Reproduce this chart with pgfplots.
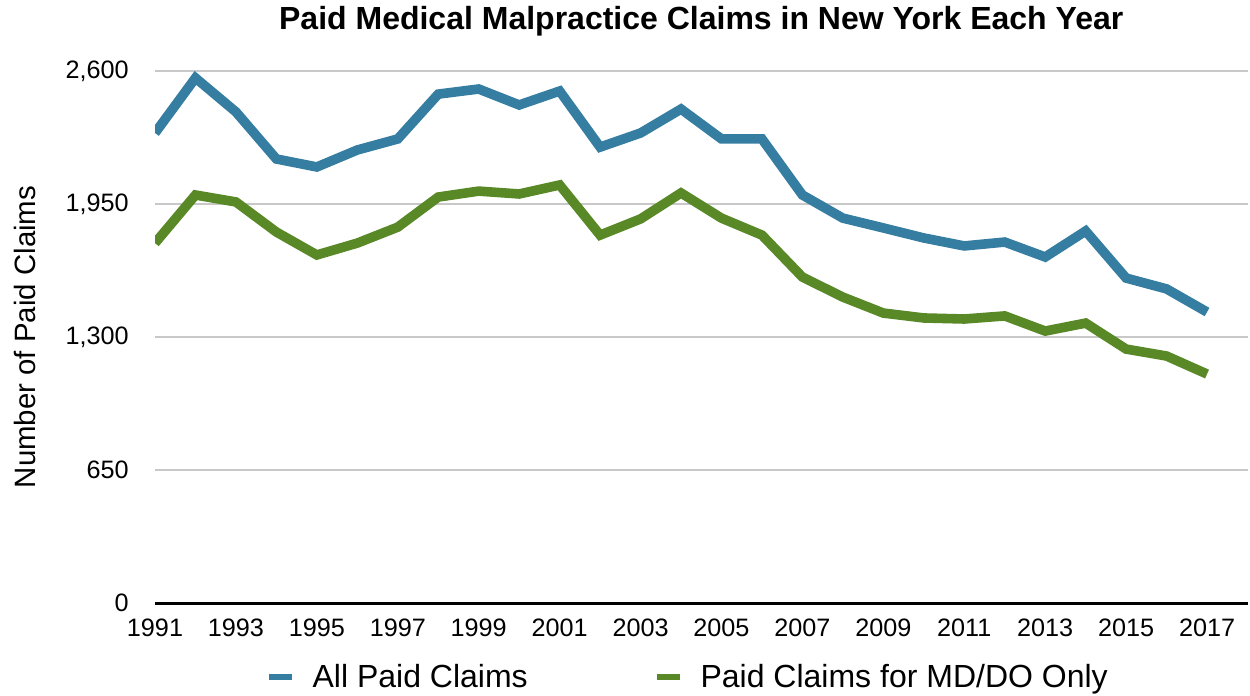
\documentclass[border=0pt]{standalone}
\usepackage{pgfplots}
\pgfplotsset{compat=1.18}
\usepackage{fontspec}
\setmainfont{Liberation Sans}
\definecolor{cblue}{RGB}{53,125,161}
\definecolor{cgreen}{RGB}{89,137,39}
\definecolor{cgrid}{RGB}{200,200,200}
\begin{document}
\begin{tikzpicture}
\useasboundingbox (-77.5bp,-46.5bp) rectangle (547.5bp,301.5bp);
\begin{axis}[
  at={(0,0)}, anchor=south west, scale only axis,
  width=546.25bp, height=266bp,
  xmin=1991, xmax=2018, ymin=0, ymax=2600,
  xtick={1991,1993,...,2017}, ytick={0,650,1300,1950,2600},
  /pgf/number format/assume math mode=true,
  x tick label style={/pgf/number format/1000 sep={}, font=\fontsize{12.6bp}{15bp}\selectfont, inner sep=0pt, anchor=north, yshift=-8bp},
  y tick label style={/pgf/number format/1000 sep={,}, font=\fontsize{12.6bp}{15bp}\selectfont, inner sep=0pt, anchor=east, xshift=-13bp},
  major tick length=0pt,
  separate axis lines,
  axis x line*=bottom, axis y line*=left,
  y axis line style={draw=none},
  x axis line style={line width=1.5bp, black, -},
  ymajorgrids, major grid style={draw=cgrid, line width=0.6bp},
  title={Paid Medical Malpractice Claims in New York Each Year},
  title style={at={(axis description cs:0.5,1)}, anchor=center, yshift=19bp, font=\fontsize{16bp}{19bp}\selectfont\bfseries},
  ylabel={Number of Paid Claims},
  every axis y label/.style={at={(axis description cs:-0.119,0.5)}, rotate=90, anchor=center, font=\fontsize{14.7bp}{18bp}\selectfont},
  legend style={at={(axis description cs:0.4886,0)}, anchor=center, yshift=-37bp, draw=none, fill=none, font=\fontsize{16bp}{19bp}\selectfont,
    /tikz/every even column/.append style={column sep=61bp}},
  legend columns=2,
  legend image code/.code={\draw[#1, line width=3bp] (0bp,0bp) -- (11.5bp,0bp); \path (17.5bp,0bp);},
]
\addplot[cblue, line width=4.8bp, line join=miter] coordinates {
(1991,2297) (1992,2566) (1993,2400) (1994,2170) (1995,2131) (1996,2214) (1997,2268)
(1998,2487) (1999,2512) (2000,2434) (2001,2502) (2002,2228) (2003,2297) (2004,2414)
(2005,2268) (2006,2268) (2007,1994) (2008,1881) (2009,1833) (2010,1784) (2011,1745)
(2012,1764) (2013,1691) (2014,1818) (2015,1588) (2016,1535) (2017,1422)};
\addlegendentry{All Paid Claims}
\addplot[cgreen, line width=4.8bp, line join=miter] coordinates {
(1991,1759) (1992,1994) (1993,1960) (1994,1813) (1995,1701) (1996,1759) (1997,1837)
(1998,1984) (1999,2013) (2000,1999) (2001,2043) (2002,1798) (2003,1877) (2004,2004)
(2005,1881) (2006,1798) (2007,1593) (2008,1495) (2009,1417) (2010,1393) (2011,1388)
(2012,1403) (2013,1329) (2014,1368) (2015,1241) (2016,1207) (2017,1119)};
\addlegendentry{Paid Claims for MD/DO Only}
\end{axis}
\end{tikzpicture}
\end{document}
